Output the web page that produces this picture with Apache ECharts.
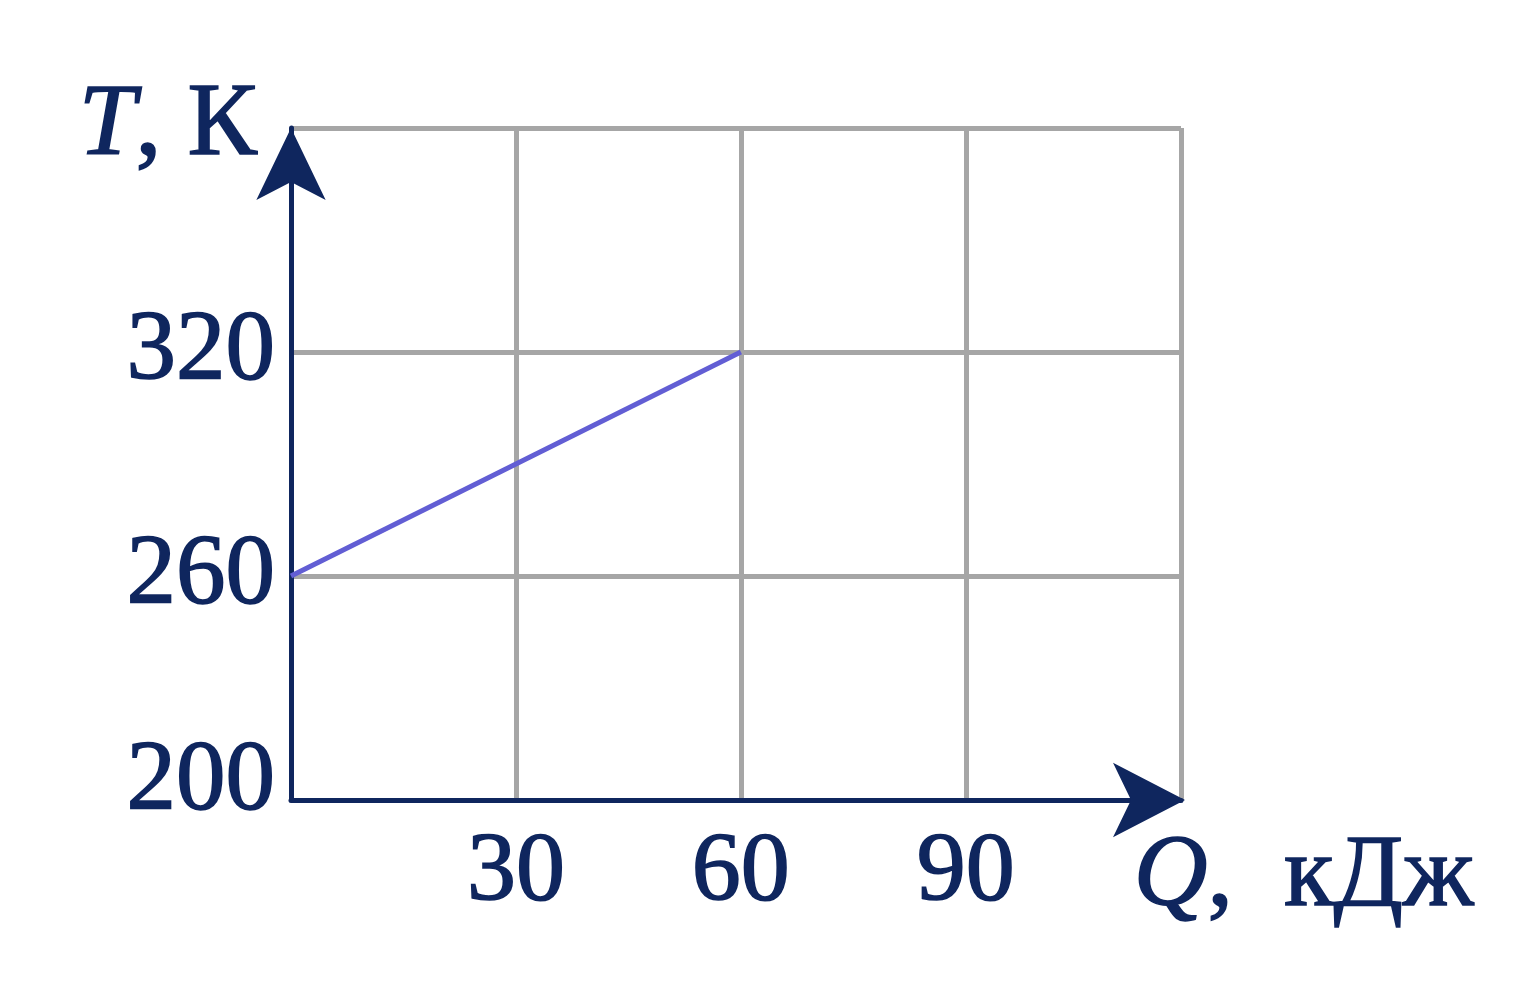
<!DOCTYPE html>
<html><head><meta charset="utf-8">
<script src="https://cdn.jsdelivr.net/npm/echarts@6/dist/echarts.min.js"></script>
<style>html,body{margin:0;padding:0;background:#fff}#c{width:1530px;height:981px}</style>
</head><body><div id="c"></div>
<script>
const qValues = [0, 60];
const tValues = [260, 320];
const xTicks = [30, 60, 90];
const yTicks = [200, 260, 320];
const xName = ['Q', ',  кДж'];
const yName = ['T', ', К'];

const ink = '#0f265e';
const font = '"Liberation Serif", "DejaVu Serif", serif';
const tb = {textBorderColor: ink, textBorderWidth: 1.6};
const gs = {stroke: ink, lineWidth: 1.6};
const chart = echarts.init(document.getElementById('c'), null, {renderer: 'canvas'});
chart.setOption({
  backgroundColor: '#fff',
  animation: false,
  grid: {left: 291, top: 128, width: 890, height: 672, show: false},
  xAxis: {
    type: 'value', min: 0, max: 118.7, interval: 30,
    axisLine: {show: true, lineStyle: {color: ink, width: 5}, symbol: ['none', 'arrow'], symbolSize: [56, 72], symbolOffset: [0, 4]},
    axisTick: {show: false},
    splitLine: {show: true, lineStyle: {color: '#a6a6a6', width: 5}},
    axisLabel: Object.assign({
      margin: 24, fontSize: 98, color: ink, fontFamily: font,
      formatter: v => xTicks.includes(v) ? String(v) : ''
    }, tb)
  },
  yAxis: {
    type: 'value', min: 200, max: 380, interval: 60,
    axisLine: {show: true, lineStyle: {color: ink, width: 5}, symbol: ['none', 'arrow'], symbolSize: [52, 72], symbolOffset: [0, 0]},
    axisTick: {show: false},
    splitLine: {show: true, lineStyle: {color: '#a6a6a6', width: 5}},
    axisLabel: Object.assign({
      margin: 16, fontSize: 99, color: ink, fontFamily: font,
      formatter: v => yTicks.includes(v) ? (v === 200 ? '{b|' + v + '}' : String(v)) : '',
      rich: {b: Object.assign({fontSize: 99, color: ink, fontFamily: font, padding: [0, 0, 36, 0]}, tb)}
    }, tb)
  },
  series: [{
    type: 'line', data: qValues.map((q, i) => [q, tValues[i]]),
    symbol: 'none', lineStyle: {color: '#625ed4', width: 5}, z: 1
  }],
  graphic: [
    {type: 'text', left: 78, top: 74, style: {
      text: '{i|' + yName[0] + '}{n|' + yName[1] + '}',
      rich: {i: Object.assign({fontSize: 102, fontStyle: 'italic', fontFamily: font, fill: ink}, gs), n: Object.assign({fontSize: 104, fontFamily: font, fill: ink}, gs)}
    }},
    {type: 'text', left: 1133, top: 826, style: {
      text: '{i|' + xName[0] + '}{n|' + xName[1] + '}',
      rich: {i: Object.assign({fontSize: 102, fontStyle: 'italic', fontFamily: font, fill: ink}, gs), n: Object.assign({fontSize: 102, fontFamily: font, fill: ink}, gs)}
    }}
  ]
});
</script></body></html>
